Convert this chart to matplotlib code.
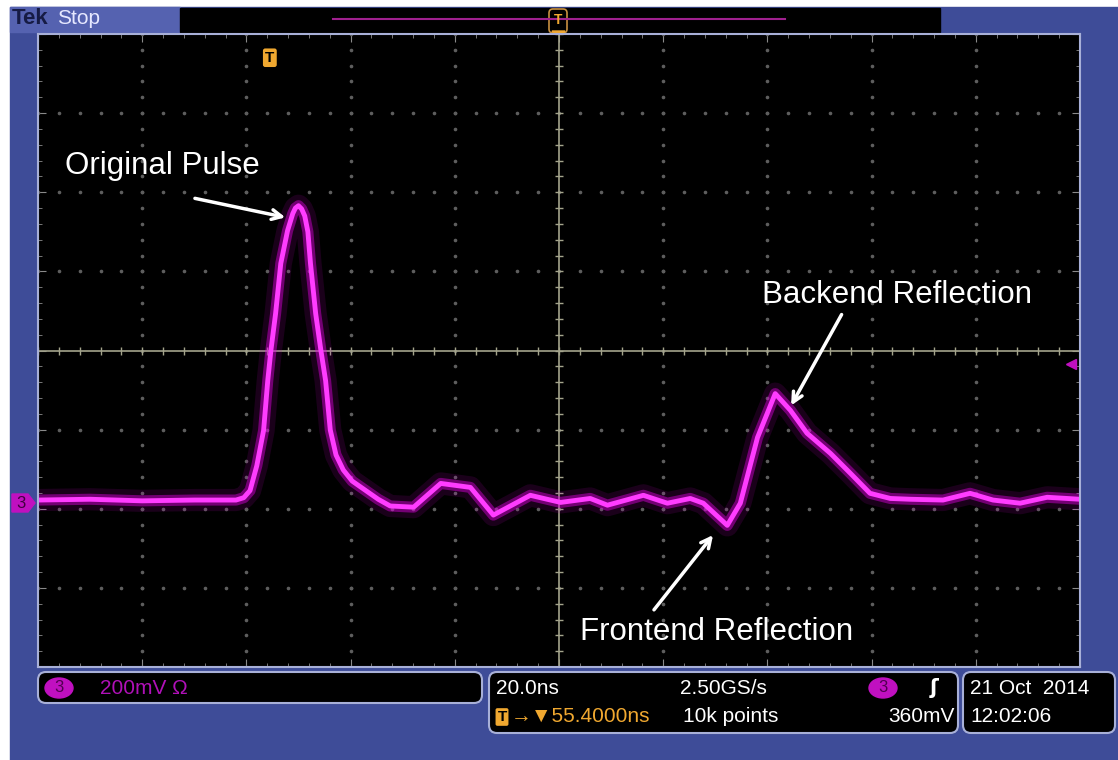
import numpy as np
import matplotlib
matplotlib.use('Agg')
import matplotlib.pyplot as plt
from matplotlib.patches import FancyBboxPatch, Polygon, Ellipse, Rectangle

plt.rcParams['font.family'] = ['Liberation Sans', 'DejaVu Sans']

# channel 3 trace (time in ns from screen centre, mV from centre line)
time_ns = [-100, -90, -80, -70, -62, -60.5, -59.3, -58.0, -56.7, -55.9, -55.3, -54.4, -53.4,
           -52.1, -51.1, -50.6, -50.0, -49.4, -48.8, -48.2, -47.7, -46.7, -45.7, -44.8, -43.9,
           -42.8, -41.4, -39.7, -37.2, -34.7, -32.4, -27.9, -22.7, -17.0, -12.6, -5.5, 0.3,
           6.0, 9.3, 16.2, 20.8, 25.2, 27.7, 32.3, 34.8, 38.1, 41.5, 44.4, 47.6, 52.1, 55.9,
           59.7, 63.6, 67.4, 73.7, 78.9, 83.3, 88.5, 93.7, 100]
volt_mV = [-378, -376, -380, -378, -378, -372, -354, -291, -202, -76, 0, 93, 220,
           303, 346, 360, 366, 358, 340, 300, 220, 93, 0, -76, -201,
           -264, -302, -330, -353, -376, -393, -396, -336, -346, -416, -366, -384,
           -374, -391, -366, -386, -374, -386, -442, -386, -220, -109, -151, -209, -260, -310,
           -361, -374, -376, -378, -361, -378, -386, -371, -376]

# annotations: (label, text position, arrow start, arrow tip) in ns / mV
notes = [
    ('Original Pulse', (-94.8, 466), (-70.4, 386), (-52.0, 335)),
    ('Backend Reflection', (39.0, 140), (54.5, 97), (44.3, -145)),
    ('Frontend Reflection', (4.0, -712), (17.9, -661), (29.9, -461)),
]

W, H = 1118, 760
BLUE = '#3e4c98'
EDGE = '#a8b0d8'
ORANGE = '#f0a830'
MAG = '#c010c0'

fig = plt.figure(figsize=(W / 100, H / 100), dpi=100, facecolor='white')

# instrument chrome drawn in pixel space
bg = fig.add_axes([0, 0, 1, 1])
bg.set_xlim(0, W)
bg.set_ylim(H, 0)
bg.axis('off')
bg.add_patch(Rectangle((10, 7), W - 10, H - 7, color=BLUE))
bg.add_patch(Rectangle((10, 7), 170, 25, color='#5562b0'))
bg.text(12, 19, 'Tek', color='#161b44', fontsize=16, fontweight='bold', va='center')
bg.text(57, 19, 'Stop', color='#e6e8ff', fontsize=15, va='center')
bg.add_patch(Rectangle((180, 8), 760, 24, color='black'))
bg.plot([333, 785], [19, 19], color='#a0208f', lw=1.5)
bg.add_patch(FancyBboxPatch((549, 9), 18, 24, boxstyle='round,pad=0,rounding_size=4',
                            fc='black', ec='#c89040', lw=1.2))
bg.text(558, 20, 'T', color=ORANGE, fontsize=10, fontweight='bold', ha='center', va='center')
bg.add_patch(Polygon([(552, 31), (565, 31), (558.5, 40)], color=ORANGE))

# channel marker on the left
bg.add_patch(Polygon([(12, 494), (28, 494), (35, 503), (28, 512), (12, 512)], color=MAG))
bg.text(21, 503, '3', color='#40003f', fontsize=12, ha='center', va='center')

# bottom readout panels
for x0, y0, w, h in [(38, 672, 444, 31), (489, 672, 469, 61), (963, 672, 152, 61)]:
    bg.add_patch(FancyBboxPatch((x0, y0), w, h, boxstyle='round,pad=0,rounding_size=8',
                                fc='black', ec=EDGE, lw=1.5))
r1, r2 = 688, 716
bg.add_patch(Ellipse((59, r1), 28, 20, color=MAG))
bg.text(59, r1, '3', color='#500050', fontsize=12, ha='center', va='center')
bg.text(100, r1, '200mV Ω', color='#b010b8', fontsize=15, va='center')
bg.text(496, r1, '20.0ns', color='white', fontsize=15, va='center')
bg.text(502, r2 + 1, 'T', color='black', fontsize=11, fontweight='bold', ha='center', va='center',
        bbox=dict(boxstyle='round,pad=0.12', fc=ORANGE, ec='none'))
bg.text(511, r2, '→▼55.4000ns', color=ORANGE, fontsize=15, va='center')
bg.text(680, r1, '2.50GS/s', color='white', fontsize=15, va='center')
bg.text(683, r2, '10k points', color='white', fontsize=15, va='center')
bg.add_patch(Ellipse((883, r1), 28, 20, color=MAG))
bg.text(883, r1, '3', color='#500050', fontsize=12, ha='center', va='center')
bg.text(930, r1, 'ʃ', color='white', fontsize=15, fontweight='bold', va='center', family='DejaVu Sans')
bg.text(955, r2, '360mV', color='white', fontsize=15, va='center', ha='right')
bg.text(970, r1, '21 Oct  2014', color='white', fontsize=15, va='center')
bg.text(970, r2, '12:02:06', color='white', fontsize=15, va='center')

# the scope screen
ax = fig.add_axes([38 / W, (H - 667) / H, 1042 / W, 633 / H], zorder=2)
ax.set_facecolor('black')
ax.set_xlim(-100, 100)
ax.set_ylim(-800, 800)
for s in ax.spines.values():
    s.set_color(EDGE)
    s.set_linewidth(1.5)
ax.set_xticks(np.arange(-100, 101, 20))
ax.set_xticks(np.arange(-100, 101, 4), minor=True)
ax.set_yticks(np.arange(-800, 801, 200))
ax.set_yticks(np.arange(-800, 801, 40), minor=True)
ax.tick_params(which='both', direction='in', color='#8a8a8a', top=True, right=True,
               labelbottom=False, labelleft=False)
ax.tick_params(which='major', length=6)
ax.tick_params(which='minor', length=3)

dot_v = np.arange(-800, 801, 40)
dot_t = np.arange(-100, 101, 4)
for gt in range(-80, 81, 20):
    if gt != 0:
        ax.plot([gt] * len(dot_v), dot_v, ls='none', marker='o', ms=1.6, color='#5e5e5e')
for gv in range(-600, 601, 200):
    if gv != 0:
        ax.plot(dot_t, [gv] * len(dot_t), ls='none', marker='o', ms=1.6, color='#5e5e5e')
CROSS = '#a4a48c'
ax.axhline(0, color=CROSS, lw=1.2)
ax.axvline(0, color=CROSS, lw=1.2)
ax.plot(dot_t, [0] * len(dot_t), ls='none', marker='|', ms=6, color=CROSS)
ax.plot([0] * len(dot_v), dot_v, ls='none', marker='_', ms=6, color=CROSS)

# trace with persistence glow
ax.plot(time_ns, volt_mV, color='#b000b0', lw=16, alpha=0.15, solid_joinstyle='round')
ax.plot(time_ns, volt_mV, color='#e000e0', lw=8, alpha=0.45, solid_joinstyle='round')
ax.plot(time_ns, volt_mV, color='#ff3cff', lw=3.5, solid_joinstyle='round')

# markers inside the screen
ax.text(-55.5, 740, 'T', color='black', fontsize=11, fontweight='bold', ha='center', va='center',
        bbox=dict(boxstyle='round,pad=0.15', fc=ORANGE, ec='none'))
ax.plot([98.3], [-35], marker='<', ms=7, color=MAG, clip_on=False)

for label, tpos, start, tip in notes:
    ax.text(tpos[0], tpos[1], label, color='white', fontsize=22.5, va='center')
    ax.annotate('', xy=tip, xytext=start,
                arrowprops=dict(arrowstyle='->,head_length=0.7,head_width=0.35',
                                color='white', lw=2.5))

fig.savefig('out.png', dpi=100, facecolor=fig.get_facecolor())
